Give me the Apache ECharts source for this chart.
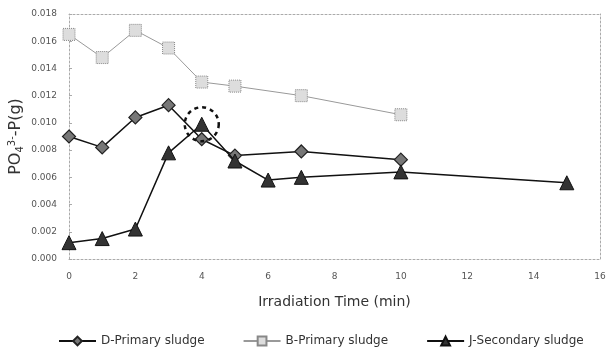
<!DOCTYPE html>
<html>
<head>
<meta charset="utf-8">
<script src="https://cdn.jsdelivr.net/npm/echarts@6/dist/echarts.min.js"></script>
<style>
  html, body { margin: 0; padding: 0; background: #fff; }
  #chart { width: 611px; height: 351px; }
</style>
</head>
<body>
<div id="chart"></div>
<script>
// irradiation time (min) and PO4-P (g)
const dTime = [0, 1, 2, 3, 4, 5, 7, 10]
const dPrimary = [0.0090, 0.0082, 0.0104, 0.0113, 0.0088, 0.0076, 0.0079, 0.0073]
const bTime = [0, 1, 2, 3, 4, 5, 7, 10]
const bPrimary = [0.0165, 0.0148, 0.0168, 0.0155, 0.0130, 0.0127, 0.0120, 0.0106]
const jTime = [0, 1, 2, 3, 4, 5, 6, 7, 10, 15]
const jSecondary = [0.0012, 0.0015, 0.0022, 0.0078, 0.0099, 0.0072, 0.0058, 0.0060, 0.0064, 0.0056]
const highlight = [4, 0.0099]

const pair = (xs, ys) => xs.map((x, i) => [x, ys[i]])

const chart = echarts.init(document.getElementById('chart'))
const tickFont = { color: '#555', fontSize: 9, fontFamily: 'DejaVu Sans' }
const frameLine = { show: true, onZero: false, lineStyle: { color: '#aaa', type: [2, 2], width: 1 } }

chart.setOption({
  animation: false,
  grid: { left: 69, right: 11, top: 14, bottom: 92, outerBoundsMode: 'none', containLabel: false },
  legend: {
    top: 330,
    left: 53,
    itemGap: 38,
    itemWidth: 37,
    itemHeight: 11,
    textStyle: { color: '#333', fontSize: 12, fontFamily: 'DejaVu Sans' },
    data: ['D-Primary sludge', 'B-Primary sludge', 'J-Secondary sludge']
  },
  xAxis: [{
    type: 'value',
    min: 0,
    max: 16,
    interval: 2,
    name: 'Irradiation Time (min)',
    nameLocation: 'middle',
    nameGap: 36,
    nameTextStyle: { color: '#333', fontSize: 14, fontFamily: 'DejaVu Sans' },
    axisLine: frameLine,
    axisTick: { show: false },
    axisLabel: Object.assign({ margin: 13 }, tickFont),
    splitLine: { show: false }
  }, {
    type: 'value', min: 0, max: 16, position: 'top',
    axisLine: frameLine,
    axisTick: { show: false }, axisLabel: { show: false }, splitLine: { show: false }
  }],
  yAxis: [{
    type: 'value',
    min: 0,
    max: 0.018,
    interval: 0.002,
    name: '{n|PO}{sub|4}{sup|3-}{n|-P(g)}',
    nameLocation: 'middle',
    nameGap: 44,
    nameMoveOverlap: false,
    nameTextStyle: {
      rich: {
        n: { fontSize: 16, color: '#333', fontFamily: 'DejaVu Sans' },
        sub: { fontSize: 10, color: '#333', fontFamily: 'DejaVu Sans', verticalAlign: 'bottom', padding: [8, 0, 0, 0] },
        sup: { fontSize: 10, color: '#333', fontFamily: 'DejaVu Sans', verticalAlign: 'top', padding: [0, 0, 8, 0] }
      }
    },
    axisLine: frameLine,
    axisTick: { show: true, length: 3, inside: true, lineStyle: { color: '#aaa' } },
    axisLabel: Object.assign({ margin: 12, formatter: v => v.toFixed(3) }, tickFont),
    splitLine: { show: false }
  }, {
    type: 'value', min: 0, max: 0.018, position: 'right',
    axisLine: frameLine,
    axisTick: { show: false }, axisLabel: { show: false }, splitLine: { show: false }
  }],
  series: [
    {
      name: 'D-Primary sludge',
      type: 'line',
      xAxisIndex: 0,
      yAxisIndex: 0,
      data: pair(dTime, dPrimary),
      symbol: 'diamond',
      symbolSize: 13,
      lineStyle: { color: '#111', width: 1.5 },
      itemStyle: { color: '#777', borderColor: '#222', borderWidth: 1.2 },
      z: 3
    },
    {
      name: 'B-Primary sludge',
      type: 'line',
      xAxisIndex: 0,
      yAxisIndex: 0,
      data: pair(bTime, bPrimary),
      symbol: 'rect',
      symbolSize: 12,
      lineStyle: { color: '#999', width: 1 },
      itemStyle: { color: '#ddd', borderColor: '#888', borderWidth: 1, borderType: 'dotted' },
      z: 2
    },
    {
      name: 'J-Secondary sludge',
      type: 'line',
      xAxisIndex: 0,
      yAxisIndex: 0,
      data: pair(jTime, jSecondary),
      symbol: 'triangle',
      symbolSize: 14,
      lineStyle: { color: '#111', width: 1.5 },
      itemStyle: { color: '#333', borderColor: '#111', borderWidth: 1 },
      z: 4,
      markPoint: {
        symbol: 'circle',
        symbolSize: 34,
        label: { show: false },
        itemStyle: { color: 'transparent', borderColor: '#111', borderWidth: 2.5, borderType: [4, 4] },
        data: [{ coord: highlight }]
      }
    }
  ]
})
</script>
</body>
</html>
